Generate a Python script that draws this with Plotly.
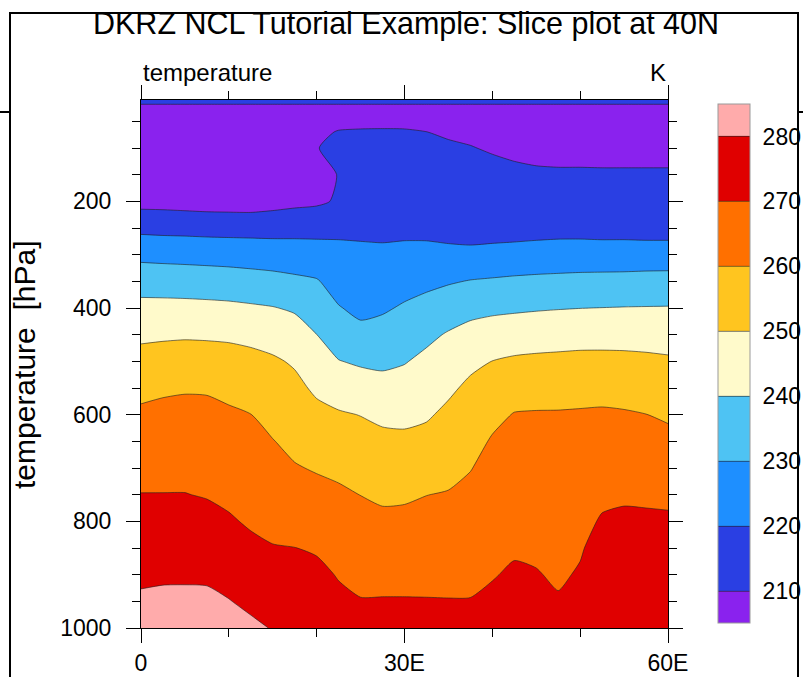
import plotly.graph_objects as go

# ---------------- data ----------------
lon = [0, 2.5, 5, 7.5, 10, 12.5, 15, 17.5, 20, 22.5, 25, 27.5, 30,
       32.5, 35, 37.5, 40, 42.5, 45, 47.5, 50, 52.5, 55, 57.5, 60]
plev = [1000, 950, 900, 850, 800, 750, 700, 650, 600, 550, 500, 450, 400,
        350, 300, 250, 200, 150, 100, 70, 50, 20, 10]

t_1000 = [284.0, 284.6, 284.7, 284.9, 283.5, 281.6, 279.6, 279.3, 278.7, 274.7, 273.1, 273.4, 273.3, 273.1, 272.8, 272.3, 273.1, 274.4, 273.7, 272.0, 274.5, 277.7, 278.2, 278.1, 278.0]
t_950 = [281.3, 281.7, 281.8, 281.8, 280.3, 278.3, 276.5, 276.5, 275.5, 272.0, 270.4, 270.5, 270.5, 270.4, 270.3, 270.3, 271.3, 272.7, 272.1, 270.6, 272.6, 276.0, 276.4, 276.3, 276.2]
t_900 = [278.5, 278.9, 278.9, 278.7, 277.2, 275.1, 273.5, 273.3, 272.3, 269.4, 267.8, 267.6, 267.6, 267.8, 267.9, 268.2, 269.6, 270.9, 270.4, 269.1, 270.6, 274.2, 274.7, 274.6, 274.5]
t_850 = [275.7, 276.0, 276.0, 275.6, 274.0, 271.8, 270.4, 270.1, 269.0, 266.7, 265.2, 264.6, 264.8, 265.2, 265.4, 266.1, 267.8, 269.2, 268.8, 267.7, 269.4, 272.5, 272.9, 272.8, 272.7]
t_800 = [273.0, 273.1, 273.1, 272.5, 270.9, 269.0, 267.8, 267.0, 265.8, 264.0, 262.5, 261.7, 261.9, 262.5, 263.0, 264.0, 266.1, 267.4, 267.2, 266.3, 267.9, 270.7, 271.2, 271.1, 271.0]
t_750 = [270.2, 270.2, 270.2, 269.5, 268.3, 266.8, 265.3, 263.8, 262.6, 261.4, 259.9, 258.7, 258.9, 259.9, 260.5, 261.9, 264.3, 265.6, 265.5, 264.9, 266.1, 268.5, 269.1, 268.9, 268.6]
t_700 = [267.3, 267.5, 267.6, 267.0, 265.9, 264.5, 262.8, 260.6, 259.3, 258.2, 256.5, 255.4, 255.3, 256.2, 257.6, 259.7, 262.5, 263.9, 263.9, 263.4, 264.3, 266.0, 266.3, 266.0, 265.4]
t_650 = [264.4, 264.8, 264.9, 264.6, 263.6, 262.3, 260.3, 257.8, 255.8, 254.6, 253.2, 252.1, 251.8, 252.6, 254.7, 257.0, 260.8, 262.1, 262.2, 262.0, 262.6, 263.6, 263.6, 263.0, 262.2]
t_600 = [261.5, 262.1, 262.3, 262.1, 261.2, 260.1, 257.3, 255.0, 252.3, 250.9, 249.8, 248.2, 247.9, 249.0, 251.8, 254.4, 257.8, 260.4, 260.6, 260.6, 260.8, 261.1, 260.8, 260.1, 258.9]
t_550 = [257.8, 258.8, 259.3, 259.2, 257.9, 256.3, 254.2, 252.2, 248.5, 245.8, 244.4, 243.2, 243.7, 245.6, 248.5, 251.7, 254.0, 256.1, 256.8, 257.1, 257.3, 257.3, 256.7, 256.0, 255.0]
t_500 = [253.2, 253.9, 254.2, 254.1, 253.5, 252.5, 251.2, 249.0, 244.2, 240.3, 238.8, 238.2, 239.5, 242.1, 244.6, 248.1, 250.1, 251.3, 251.8, 252.1, 252.4, 252.4, 252.2, 251.8, 251.2]
t_450 = [248.3, 248.7, 249.0, 248.8, 248.5, 247.7, 246.3, 244.1, 240.05, 235.4, 232.5, 233.4, 235.3, 238.0, 240.8, 243.0, 244.3, 245.2, 245.8, 246.2, 246.6, 246.7, 246.7, 246.5, 246.2]
t_400 = [242.7, 242.7, 242.6, 242.3, 241.9, 241.2, 240.4, 238.9, 235.3, 230.5, 227.9, 228.9, 231.0, 233.0, 235.2, 237.3, 238.2, 238.7, 239.2, 239.6, 239.9, 240.1, 240.3, 240.4, 240.5]
t_350 = [235.9, 235.6, 235.3, 235.0, 234.6, 233.9, 233.1, 231.9, 230.7, 226.3, 225.0, 225.3, 226.7, 227.9, 229.2, 230.4, 231.0, 231.6, 232.0, 232.3, 232.6, 232.8, 232.9, 233.2, 233.3]
t_300 = [227.6, 227.2, 226.9, 226.5, 226.1, 225.6, 225.1, 224.6, 224.0, 222.3, 221.7, 221.6, 222.3, 222.7, 222.7, 222.8, 223.3, 223.8, 224.3, 224.6, 224.8, 224.7, 224.8, 224.9, 225.0]
t_250 = [217.6, 217.2, 217.0, 216.7, 216.6, 216.6, 216.6, 216.9, 217.1, 218.2, 218.3, 218.0, 217.9, 217.5, 216.2, 215.0, 215.5, 215.8, 216.3, 216.7, 216.6, 216.3, 216.25, 215.8, 215.7]
t_200 = [206.8, 206.7, 206.2, 205.7, 205.5, 205.3, 206.5, 207.7, 208.5, 211.0, 216.4, 216.4, 216.5, 216.4, 216.0, 214.5, 214.3, 215.0, 214.8, 214.7, 214.7, 214.6, 214.6, 214.6, 214.6]
t_150 = [205.0, 205.0, 204.8, 204.6, 204.5, 204.5, 205.0, 205.5, 207.0, 210.3, 214.1, 214.1, 214.1, 213.9, 213.5, 212.9, 212.3, 211.7, 211.2, 211.0, 211.0, 210.9, 210.9, 210.9, 210.9]
t_100 = [204.5, 204.5, 204.5, 204.5, 204.5, 204.5, 204.8, 205.5, 209.8, 211.5, 211.7, 211.8, 211.8, 211.5, 210.9, 210.3, 209.3, 208.3, 207.6, 207.4, 207.4, 207.4, 207.4, 207.4, 207.4]
t_70 = [205.5, 205.5, 205.5, 205.5, 205.5, 205.5, 205.5, 205.8, 208.5, 210.4, 210.6, 210.7, 210.6, 210.05, 209.2, 208.5, 208.0, 207.5, 207.3, 207.2, 207.2, 207.2, 207.2, 207.2, 207.2]
t_50 = [206.5, 206.5, 206.5, 206.5, 206.5, 206.5, 206.5, 206.5, 208.0, 208.0, 208.5, 208.5, 208.5, 208.0, 208.0, 207.8, 207.8, 207.5, 207.5, 207.5, 207.5, 207.5, 207.5, 207.5, 207.5]
t_20 = [209.0, 209.0, 209.0, 209.0, 209.0, 209.0, 209.0, 209.0, 209.0, 209.0, 209.0, 209.0, 209.0, 209.0, 209.0, 209.0, 209.0, 209.0, 209.0, 209.0, 209.0, 209.0, 209.0, 209.0, 209.0]
t_10 = [214.0, 214.0, 214.0, 214.0, 214.0, 214.0, 214.0, 214.0, 214.0, 214.0, 214.0, 214.0, 214.0, 214.0, 214.0, 214.0, 214.0, 214.0, 214.0, 214.0, 214.0, 214.0, 214.0, 214.0, 214.0]

levels = [210, 220, 230, 240, 250, 260, 270, 280]
band_colors = ["#8a22ee", "#2a3fe3", "#1e8fff", "#4ec3f3", "#fffacb",
               "#ffc51f", "#ff7000", "#e00000", "#ffabab"]
y_ticks = [200, 400, 600, 800, 1000]
x_ticks = [0, 30, 60]
x_ticklabels = ["0", "30E", "60E"]

z = [t_1000, t_950, t_900, t_850, t_800, t_750, t_700, t_650, t_600, t_550,
     t_500, t_450, t_400, t_350, t_300, t_250, t_200, t_150, t_100, t_70,
     t_50, t_20, t_10]

# ---------------- layout helpers ----------------
W, H = 803, 677
PL, PR, PT, PB = 141, 668, 100, 628


def fx(px):
    return (px - PL) / (PR - PL)


def fy(py):
    return (PB - py) / (PB - PT)


n = len(band_colors)
cscale = []
for i, c in enumerate(band_colors):
    cscale.append([i / n, c])
    cscale.append([(i + 1) / n, c])

FONT = "Liberation Sans, Arial, Helvetica, sans-serif"

fig = go.Figure(go.Contour(
    x=lon, y=plev, z=z,
    colorscale=cscale,
    autocontour=False,
    contours=dict(start=levels[0], end=levels[-1], size=10, coloring="fill",
                  showlines=True),
    line=dict(color="rgba(30,30,30,0.85)", width=0.7, smoothing=0.6),
    colorbar=dict(
        thickness=32, thicknessmode="pixels",
        len=519, lenmode="pixels",
        x=fx(718), xanchor="left", xpad=0,
        y=fy(363.5), yanchor="middle", ypad=0,
        tickvals=levels, ticktext=[str(v) for v in levels],
        ticks="outside", ticklen=8, tickcolor="rgba(0,0,0,0)",
        tickfont=dict(family=FONT, size=23, color="black"),
        outlinecolor="#999999", outlinewidth=1,
    ),
    hoverinfo="skip",
))

axis_common = dict(
    showline=True, linecolor="black", linewidth=1, mirror="ticks",
    ticks="outside", ticklen=14, tickwidth=1, tickcolor="black",
    showgrid=False, zeroline=False, automargin=False,
    tickfont=dict(family=FONT, size=23, color="black"),
)

fig.update_xaxes(range=[0, 60], tickmode="array", tickvals=x_ticks,
                 ticktext=x_ticklabels, ticklabelstandoff=0,
                 minor=dict(dtick=10, tick0=0, ticks="outside", ticklen=8,
                            tickcolor="black", tickwidth=1, showgrid=False),
                 **axis_common)
fig.update_yaxes(range=[1000, 10], tickmode="array", tickvals=y_ticks,
                 ticklabelstandoff=10,
                 minor=dict(dtick=50, tick0=0, ticks="outside", ticklen=8,
                            tickcolor="black", tickwidth=1, showgrid=False),
                 **axis_common)

line_style = dict(color="black", width=2)
shapes = [
    dict(type="line", xref="paper", yref="paper", layer="above",
         x0=fx(9), y0=fy(13), x1=fx(799), y1=fy(13), line=line_style),
    dict(type="line", xref="paper", yref="paper", layer="above",
         x0=fx(10), y0=fy(12), x1=fx(10), y1=fy(H + 20), line=line_style),
    dict(type="line", xref="paper", yref="paper", layer="above",
         x0=fx(798), y0=fy(12), x1=fx(798), y1=fy(H + 20), line=line_style),
    dict(type="line", xref="paper", yref="paper", layer="above",
         x0=fx(0), y0=fy(112), x1=fx(10), y1=fy(112), line=line_style),
    dict(type="line", xref="paper", yref="paper", layer="above",
         x0=fx(798), y0=fy(112), x1=fx(W), y1=fy(112), line=line_style),
]

annotations = [
    dict(text="DKRZ NCL Tutorial Example: Slice plot at 40N",
         xref="paper", yref="paper", x=fx(406), y=fy(24),
         xanchor="center", yanchor="middle", showarrow=False,
         font=dict(family=FONT, size=30.5, color="black")),
    dict(text="temperature", xref="paper", yref="paper", x=0, y=fy(72),
         xanchor="left", yanchor="middle", showarrow=False,
         font=dict(family=FONT, size=24, color="black")),
    dict(text="K", xref="paper", yref="paper", x=1, y=fy(72),
         xanchor="right", yanchor="middle", showarrow=False,
         font=dict(family=FONT, size=24, color="black")),
    dict(text="temperature  [hPa]", xref="paper", yref="paper",
         x=fx(24), y=fy(365), textangle=-90,
         xanchor="center", yanchor="middle", showarrow=False,
         font=dict(family=FONT, size=30, color="black")),
]

fig.update_layout(
    width=W, height=H,
    margin=dict(l=PL, r=W - PR, t=PT, b=H - PB, pad=0, autoexpand=False),
    paper_bgcolor="white", plot_bgcolor="white",
    shapes=shapes, annotations=annotations,
    showlegend=False,
)

# page frame top edge (decoration of the original screenshot)
frame_js = (
    "document.body.style.margin='0px';"
    "document.body.style.padding='0px';"
    "document.documentElement.style.overflow='hidden';"
    "var fr=document.createElement('div');"
    "fr.style.cssText='position:absolute;left:9px;top:12px;width:790px;"
    "height:0px;border-top:2px solid #000;pointer-events:none;z-index:1000;';"
    "document.body.appendChild(fr);"
)

fig.write_html(
    "out.html",
    config={"displayModeBar": False, "staticPlot": True},
    post_script=frame_js,
)
